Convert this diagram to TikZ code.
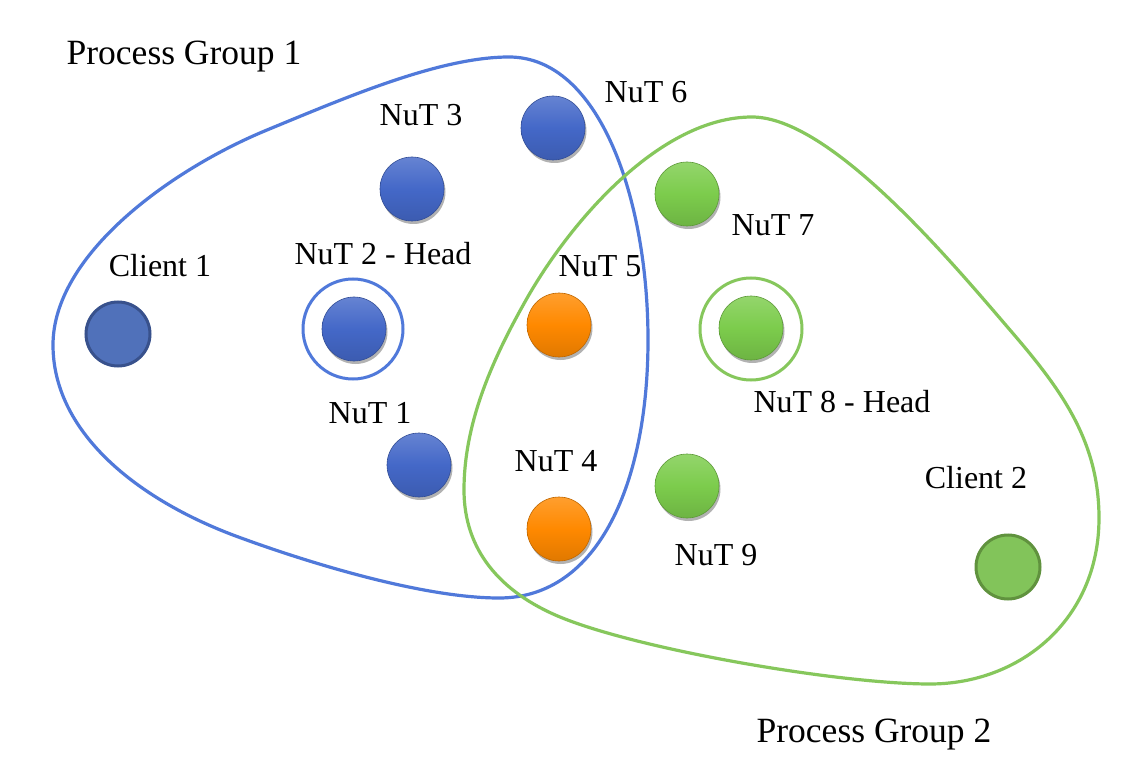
\documentclass[tikz,border=0pt]{standalone}
\usepackage{fontspec}
\setmainfont{Liberation Serif}
\usetikzlibrary{shadows}
\definecolor{gblue}{RGB}{80,121,218}
\definecolor{ggreen}{RGB}{134,199,92}
\definecolor{nblue}{RGB}{68,104,200}
\definecolor{norange}{RGB}{255,137,0}
\definecolor{ngreen}{RGB}{124,204,76}
\definecolor{cblue}{RGB}{80,113,186}
\definecolor{cblueb}{RGB}{56,81,140}
\definecolor{cgreen}{RGB}{130,196,90}
\definecolor{cgreenb}{RGB}{96,146,62}
\begin{document}
\begin{tikzpicture}[x=1pt,y=-1pt,
  lbl/.style={anchor=base, inner sep=0pt, font=\fontsize{32}{38}\selectfont},
  glbl/.style={anchor=base, inner sep=0pt, font=\fontsize{35.5}{42}\selectfont},
  ball/.style={circle, minimum size=64pt, inner sep=0pt, draw=#1!75!black, line width=0.6pt,
    top color=#1!82!white, bottom color=#1!88!black, middle color=#1,
    drop shadow={shadow xshift=1.5pt, shadow yshift=-3pt, opacity=0.3, fill=black}},
  client/.style n args={2}{circle, minimum size=64pt, inner sep=0pt, fill=#1, draw=#2, line width=3pt},
  ring/.style={circle, minimum size=#1, inner sep=0pt, line width=3pt},
  blob/.style={line width=3.2pt, line join=round}
]
\fill[white] (0,0) rectangle (1128,770);
\useasboundingbox (0,0) rectangle (1128,770);

% process groups
\draw[blob, gblue] (509,57) .. controls (600,57) and (648,200) .. (648,340)
  .. controls (648,480) and (600,598) .. (499,598)
  .. controls (420,598) and (300,560) .. (233,535)
  .. controls (133,497) and (53,430) .. (53,345)
  .. controls (53,255) and (170,170) .. (267,130)
  .. controls (347,97) and (440,57) .. (509,57) -- cycle;
\draw[blob, ggreen] (752,117) .. controls (830,117) and (950,260) .. (1010,330)
  .. controls (1060,388) and (1099,440) .. (1099,518)
  .. controls (1099,620) and (1020,684) .. (930,684)
  .. controls (840,684) and (640,650) .. (560,617)
  .. controls (500,592) and (464,550) .. (464,490)
  .. controls (464,420) and (495,355) .. (526,300)
  .. controls (570,222) and (660,117) .. (752,117) -- cycle;

% head rings
\node[ring=100pt, draw=gblue] (ring2) at (353,329) {};
\node[ring=102pt, draw=ggreen] (ring8) at (751,329) {};

% clients
\node[client={cblue}{cblueb}] (c1) at (118,334) {};
\node[client={cgreen}{cgreenb}] (c2) at (1008,567) {};

% NuTs
\node[ball=nblue] (n1) at (419,465) {};
\node[ball=nblue] (n2) at (354,329) {};
\node[ball=nblue] (n3) at (412,189) {};
\node[ball=norange] (n4) at (559,529) {};
\node[ball=norange] (n5) at (559,325) {};
\node[ball=nblue] (n6) at (553,128) {};
\node[ball=ngreen] (n7) at (687,194) {};
\node[ball=ngreen] (n8) at (751,328) {};
\node[ball=ngreen] (n9) at (687,486) {};

% labels
\node[glbl] (lg1) at (184,65) {Process Group 1};
\node[glbl] (lg2) at (874,742) {Process Group 2};
\node[lbl] (lc1) at (160,277) {Client 1};
\node[lbl] (lc2) at (976,488) {Client 2};
\node[lbl] (l1) at (370,423) {NuT 1};
\node[lbl] (l2) at (383,265) {NuT 2 - Head};
\node[lbl] (l3) at (421,126) {NuT 3};
\node[lbl] (l4) at (556,471) {NuT 4};
\node[lbl] (l5) at (600,277) {NuT 5};
\node[lbl] (l6) at (646,103) {NuT 6};
\node[lbl] (l7) at (773,236) {NuT 7};
\node[lbl] (l8) at (842,412) {NuT 8 - Head};
\node[lbl] (l9) at (716,565) {NuT 9};
\end{tikzpicture}
\end{document}
